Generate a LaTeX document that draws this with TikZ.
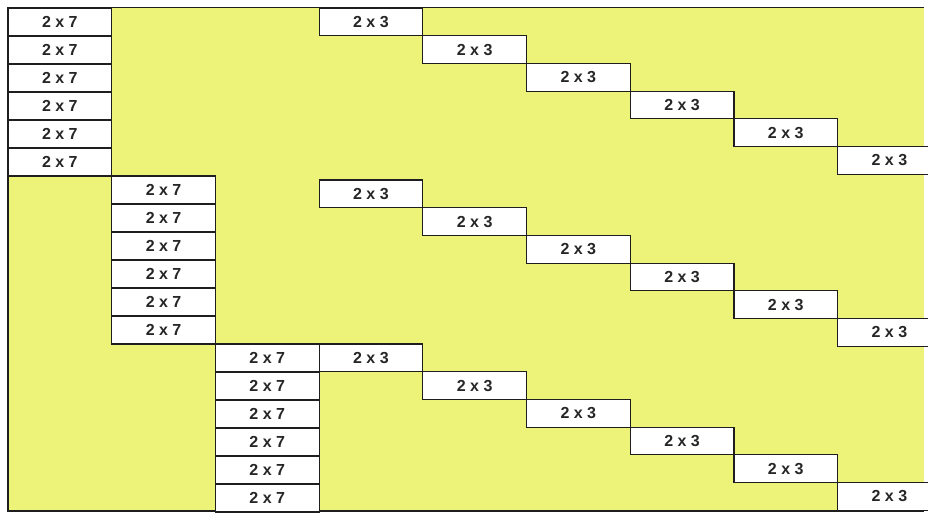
\documentclass[tikz,border=0pt]{standalone}
\usepackage{fontspec}
\setmainfont{Liberation Sans}
\usetikzlibrary{positioning}
\definecolor{yellowbg}{RGB}{237,243,121}
\definecolor{framec}{RGB}{30,30,30}

\begin{document}
\begin{tikzpicture}[
  x=1pt, y=-1pt,
  font=\fontsize{16}{16}\selectfont\bfseries,
  sevencell/.style={draw=framec, fill=white, line width=1.2pt, anchor=north west,
    inner sep=0pt, outer sep=0pt, minimum width=103.7pt, minimum height=28pt,
    text=black!85},
  threecell/.style={sevencell, minimum height=27.7pt}
]
\clip (0,0) rectangle (928,512);
\fill[yellowbg] (8,8) rectangle (924,511);
\draw[framec, line width=1.2pt] (924,7.5) -- (8,7.5) -- (8,511) -- (924,511);

% three groups: a column of 2x7 blocks and a staircase of 2x3 blocks
\foreach \g/\t in {0/8, 1/180, 2/344} {
  \foreach \r in {0,...,5} {
    \node[sevencell] (seven-\g-\r) at ({8+103.7*\g},{8+168*\g+28*\r}) {2 x 7};
    \node[threecell] (three-\g-\r) at ({8+103.7*(3+\r)},{\t+27.7*\r}) {2 x 3};
  }
}
\end{tikzpicture}
\end{document}
